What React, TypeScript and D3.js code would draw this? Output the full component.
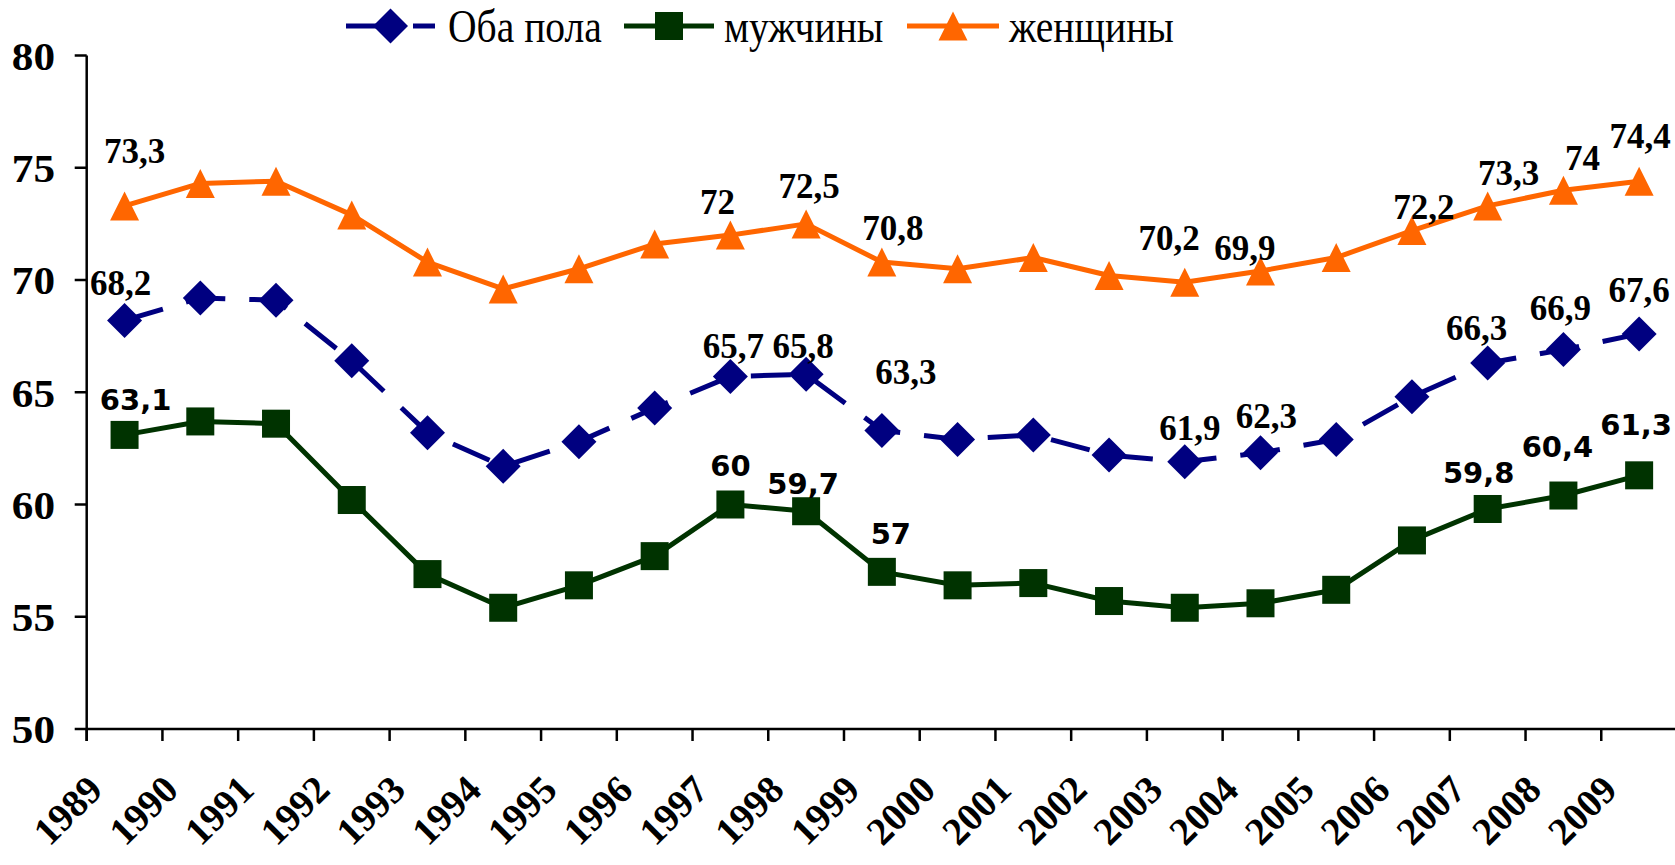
import React from "react";
import * as d3 from "d3";

const years = ["1989","1990","1991","1992","1993","1994","1995","1996","1997","1998","1999","2000","2001","2002","2003","2004","2005","2006","2007","2008","2009"];
const both = [68.2, 69.2, 69.1, 66.4, 63.2, 61.7, 62.8, 64.3, 65.7, 65.8, 63.3, 62.9, 63.1, 62.2, 61.9, 62.3, 62.9, 64.8, 66.3, 66.9, 67.6];
const men = [63.1, 63.7, 63.6, 60.2, 56.9, 55.4, 56.4, 57.7, 60.0, 59.7, 57.0, 56.4, 56.5, 55.7, 55.4, 55.6, 56.2, 58.4, 59.8, 60.4, 61.3];
const women = [73.3, 74.3, 74.4, 72.9, 70.8, 69.6, 70.5, 71.6, 72.0, 72.5, 70.8, 70.5, 71.0, 70.2, 69.9, 70.4, 71.0, 72.2, 73.3, 74.0, 74.4];
const yTicks = [50, 55, 60, 65, 70, 75, 80];
const seriesNames = ["Оба пола", "мужчины", "женщины"];

// which points carry a value label (index, offset from point)
const bothLabels = [
  { i: 0, dx: -4, dy: -25 }, { i: 8, dx: 3, dy: -19 }, { i: 9, dx: -3, dy: -16 },
  { i: 10, dx: 24, dy: -46 }, { i: 14, dx: 5, dy: -22 }, { i: 15, dx: 6, dy: -25 },
  { i: 18, dx: -11, dy: -23 }, { i: 19, dx: -3, dy: -30 }, { i: 20, dx: 0, dy: -32 },
];
const menLabels = [
  { i: 0, dx: 11, dy: -25 }, { i: 8, dx: 0, dy: -29 }, { i: 9, dx: -3, dy: -17 },
  { i: 10, dx: 9, dy: -28 }, { i: 18, dx: -9, dy: -26 }, { i: 19, dx: -6, dy: -39 },
  { i: 20, dx: -3, dy: -40 },
];
const womenLabels = [
  { i: 0, dx: 10, dy: -43 }, { i: 8, dx: -13, dy: -21 }, { i: 9, dx: 3, dy: -26 },
  { i: 10, dx: 11, dy: -22 }, { i: 13, dx: 60, dy: -26 }, { i: 14, dx: 60, dy: -22 },
  { i: 17, dx: 12, dy: -12 }, { i: 18, dx: 21, dy: -21 }, { i: 19, dx: 19, dy: -20 },
  { i: 20, dx: 1, dy: -33 },
];

const BLUE = "#000080";
const GREEN = "#003300";
const ORANGE = "#FF6600";
const SERIF = "'Liberation Serif', 'Times New Roman', serif";
const SANS = "'DejaVu Sans', Verdana, sans-serif";

const W = 1675, H = 865;
const left = 86.7, right = 1677, top = 55.5, bottom = 729;

const fmt = (v: number) => String(v).replace(".", ",");

function Diamond({ x, y }: { x: number; y: number }) {
  const r = 17.5;
  return <path d={`M${x},${y - r}L${x + r},${y}L${x},${y + r}L${x - r},${y}Z`} fill={BLUE} />;
}
function Square({ x, y }: { x: number; y: number }) {
  const r = 14;
  return <rect x={x - r} y={y - r} width={2 * r} height={2 * r} fill={GREEN} />;
}
function Tri({ x, y }: { x: number; y: number }) {
  const r = 14.5;
  return <path d={`M${x},${y - r}L${x + r},${y + r}L${x - r},${y + r}Z`} fill={ORANGE} />;
}

export default function App() {
  const x = d3.scaleBand<string>().domain(years).range([left, right]).paddingInner(0).paddingOuter(0);
  const bw = x.bandwidth();
  const cx = (i: number) => (x(years[i]) as number) + bw / 2;
  const y = d3.scaleLinear().domain([50, 80]).range([bottom, top]);
  const line = d3.line<number>().x((_, i) => cx(i)).y((d) => y(d));

  const boundaries = years.map((yr) => x(yr) as number).concat([right]);

  const legend = [
    { name: seriesNames[0], x0: 346, x1: 435, tx: 448, color: BLUE, kind: "d" },
    { name: seriesNames[1], x0: 624, x1: 714, tx: 724, color: GREEN, kind: "s" },
    { name: seriesNames[2], x0: 907, x1: 999, tx: 1009, color: ORANGE, kind: "t" },
  ];
  const ly = 26;

  return (
    <svg width={W} height={H} style={{ position: "absolute", left: 0, top: 0, background: "#fff" }}>
      <rect x={0} y={0} width={W} height={H} fill="#fff" />
      {/* axes */}
      <line x1={left} x2={left} y1={top} y2={bottom + 12} stroke="#000" strokeWidth={2.5} />
      <line x1={left} x2={right} y1={bottom} y2={bottom} stroke="#000" strokeWidth={2.5} />
      {yTicks.map((t) => (
        <g key={t}>
          <line x1={left - 12} x2={left} y1={y(t)} y2={y(t)} stroke="#000" strokeWidth={2.5} />
          <text transform={`translate(55,${y(t)}) scale(1.08,1)`} dy="0.36em" textAnchor="end"
            fontFamily={SERIF} fontWeight="bold" fontSize={40}>
            {t}
          </text>
        </g>
      ))}
      {boundaries.map((b, i) => (
        <line key={i} x1={b} x2={b} y1={bottom} y2={bottom + 12} stroke="#000" strokeWidth={2.5} />
      ))}
      {years.map((yr, i) => (
        <text
          key={yr}
          transform={`translate(${cx(i) - 20},${792}) rotate(-45)`}
          textAnchor="end"
          fontFamily={SERIF}
          fontWeight="bold"
          fontSize={39}
        >
          {yr}
        </text>
      ))}

      {/* lines */}
      <path d={line(women) as string} fill="none" stroke={ORANGE} strokeWidth={5} strokeLinejoin="round" />
      <path d={line(men) as string} fill="none" stroke={GREEN} strokeWidth={5} strokeLinejoin="round" />
      <path d={line(both) as string} fill="none" stroke={BLUE} strokeWidth={5} strokeDasharray="40 24" />

      {/* markers */}
      {women.map((v, i) => <Tri key={"w" + i} x={cx(i)} y={y(v)} />)}
      {men.map((v, i) => <Square key={"m" + i} x={cx(i)} y={y(v)} />)}
      {both.map((v, i) => <Diamond key={"b" + i} x={cx(i)} y={y(v)} />)}

      {/* value labels */}
      {womenLabels.map((l) => (
        <text key={"wl" + l.i} x={cx(l.i) + l.dx} y={y(women[l.i]) + l.dy} textAnchor="middle"
          fontFamily={SERIF} fontWeight="bold" fontSize={35}>{fmt(women[l.i])}</text>
      ))}
      {bothLabels.map((l) => (
        <text key={"bl" + l.i} x={cx(l.i) + l.dx} y={y(both[l.i]) + l.dy} textAnchor="middle"
          fontFamily={SERIF} fontWeight="bold" fontSize={35}>{fmt(both[l.i])}</text>
      ))}
      {menLabels.map((l) => (
        <text key={"ml" + l.i} x={cx(l.i) + l.dx} y={y(men[l.i]) + l.dy} textAnchor="middle"
          fontFamily={SANS} fontWeight="bold" fontSize={29}>{fmt(men[l.i])}</text>
      ))}

      {/* legend */}
      {legend.map((g) => {
        const mx = (g.x0 + g.x1) / 2;
        return (
          <g key={g.name}>
            {g.kind === "d" ? (
              <>
                <line x1={g.x0} x2={g.x0 + 57} y1={ly} y2={ly} stroke={g.color} strokeWidth={5} />
                <line x1={g.x0 + 67} x2={g.x1} y1={ly} y2={ly} stroke={g.color} strokeWidth={5} />
                <Diamond x={mx} y={ly} />
              </>
            ) : (
              <>
                <line x1={g.x0} x2={g.x1} y1={ly} y2={ly} stroke={g.color} strokeWidth={5} />
                {g.kind === "s" ? <Square x={mx} y={ly} /> : <Tri x={mx} y={ly} />}
              </>
            )}
            <text transform={`translate(${g.tx},42) scale(0.86,1)`} fontFamily={SERIF} fontSize={46}>{g.name}</text>
          </g>
        );
      })}
    </svg>
  );
}
